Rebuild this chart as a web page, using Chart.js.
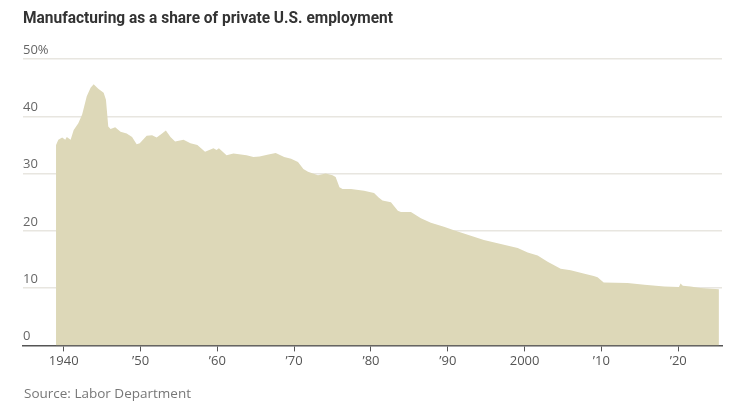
<!DOCTYPE html>
<html>
<head>
<meta charset="utf-8">
<script src="https://cdn.jsdelivr.net/npm/chart.js@4.4.1/dist/chart.umd.min.js"></script>
<style>
  body { margin: 0; background: #fff; }
  #wrap { position: relative; width: 730px; height: 412px; overflow: hidden; }
  #title { position: absolute; left: 23px; top: 6px; font: bold 17px Roboto, sans-serif; line-height: 22px; color: #333; white-space: nowrap; transform-origin: left top; }
  #source { position: absolute; left: 24px; top: 384px; font: 13.5px "Open Sans", sans-serif; line-height: 18px; color: #777; }
  canvas { position: absolute; left: 0; top: 0; }
</style>
</head>
<body>
<div id="wrap">
  <canvas id="chart" width="730" height="412"></canvas>
  <div id="title">Manufacturing as a share of private U.S. employment</div>
  <div id="source">Source: Labor Department</div>
</div>
<script>
// values (year, % of private employment)
const years = [
  1939.0, 1939.3, 1939.8, 1940.2, 1940.4, 1940.9, 1941.3, 1941.9, 1942.4, 1943.0,
  1943.5, 1943.9, 1944.5, 1945.2, 1945.5, 1945.8, 1946.1, 1946.7, 1947.4, 1948.2,
  1948.9, 1949.5, 1949.9, 1950.8, 1951.5, 1952.1, 1952.8, 1953.3, 1953.9, 1954.5,
  1955.6, 1956.5, 1957.4, 1958.4, 1959.5, 1959.9, 1960.2, 1961.2, 1962.1, 1963.8,
  1964.7, 1965.5, 1966.5, 1967.6, 1968.7, 1969.6, 1970.5, 1971.2, 1971.8, 1973.1,
  1974.1, 1975.0, 1975.4, 1975.9, 1976.3, 1977.4, 1979.1, 1980.4, 1981.0, 1981.5,
  1982.6, 1983.5, 1983.9, 1985.2, 1986.5, 1987.8, 1989.5, 1990.8, 1992.6, 1994.7,
  1996.9, 1999.1, 2000.4, 2001.7, 2003.0, 2004.7, 2006.0, 2007.8, 2009.0, 2009.5,
  2010.3, 2013.4, 2015.6, 2018.2, 2020.1, 2020.3, 2020.6, 2021.6, 2022.9, 2025.3
];
const shares = [
  35.0, 35.9, 36.3, 35.9, 36.4, 35.9, 37.6, 38.8, 40.3, 43.5,
  45.0, 45.6, 44.8, 44.1, 42.9, 38.2, 37.8, 38.1, 37.3, 37.0,
  36.4, 35.1, 35.3, 36.6, 36.7, 36.3, 37.0, 37.5, 36.4, 35.6,
  35.9, 35.3, 35.0, 33.8, 34.4, 34.1, 34.4, 33.2, 33.5, 33.2,
  32.9, 33.0, 33.3, 33.6, 32.9, 32.6, 32.0, 30.8, 30.3, 29.7,
  30.0, 29.7, 29.4, 27.6, 27.3, 27.3, 27.0, 26.6, 25.8, 25.3,
  25.0, 23.5, 23.3, 23.3, 22.2, 21.4, 20.7, 20.1, 19.3, 18.4,
  17.7, 17.0, 16.2, 15.7, 14.6, 13.4, 13.1, 12.5, 12.1, 11.9,
  11.0, 10.9, 10.6, 10.3, 10.2, 10.8, 10.4, 10.3, 10.0, 9.8
];
const xTickYears = [1940, 1950, 1960, 1970, 1980, 1990, 2000, 2010, 2020];
const xTickLabels = ['1940', '\u201950', '\u201960', '\u201970', '\u201980', '\u201990', '2000', '\u201910', '\u201920'];
const yTicks = [0, 10, 20, 30, 40, 50];

// squeeze the title to the narrow newspaper face width
const title = document.getElementById('title');
const tw = title.getBoundingClientRect().width;
title.style.transform = 'scaleX(' + (370 / tw) + ')';

const ctx = document.getElementById('chart').getContext('2d');
new Chart(ctx, {
  type: 'line',
  data: {
    datasets: [{
      data: years.map((y, i) => ({ x: y, y: shares[i] })),
      backgroundColor: '#ddd8b8',
      borderWidth: 0,
      pointRadius: 0,
      tension: 0,
      fill: 'origin'
    }]
  },
  options: {
    responsive: false,
    animation: false,
    layout: { padding: { left: 23, right: 8, top: 59, bottom: 41 } },
    plugins: { legend: { display: false }, tooltip: { enabled: false } },
    scales: {
      x: {
        type: 'linear',
        min: 1934.7,
        max: 2025.7,
        afterBuildTicks: (scale) => { scale.ticks = xTickYears.map(v => ({ value: v })); },
        ticks: {
          callback: (v) => xTickLabels[xTickYears.indexOf(v)],
          font: { family: 'Open Sans', size: 13 },
          color: '#555',
          padding: 2,
          maxRotation: 0
        },
        grid: { drawOnChartArea: false, tickLength: 6, color: '#555', lineWidth: 1 },
        border: { color: '#555', width: 1.5 }
      },
      y: {
        min: 0,
        max: 50,
        z: 1,
        afterBuildTicks: (scale) => { scale.ticks = yTicks.map(v => ({ value: v })); },
        ticks: {
          mirror: true,
          padding: 0,
          labelOffset: -9,
          callback: (v) => v === 50 ? '50%' : v,
          font: { family: 'Open Sans', size: 13 },
          color: '#666'
        },
        grid: {
          drawTicks: false,
          lineWidth: 1.5,
          color: (c) => c.tick && c.tick.value === 0 ? 'rgba(0,0,0,0)' : '#e8e6e0'
        },
        border: { display: false }
      }
    }
  }
});
</script>
</body>
</html>
